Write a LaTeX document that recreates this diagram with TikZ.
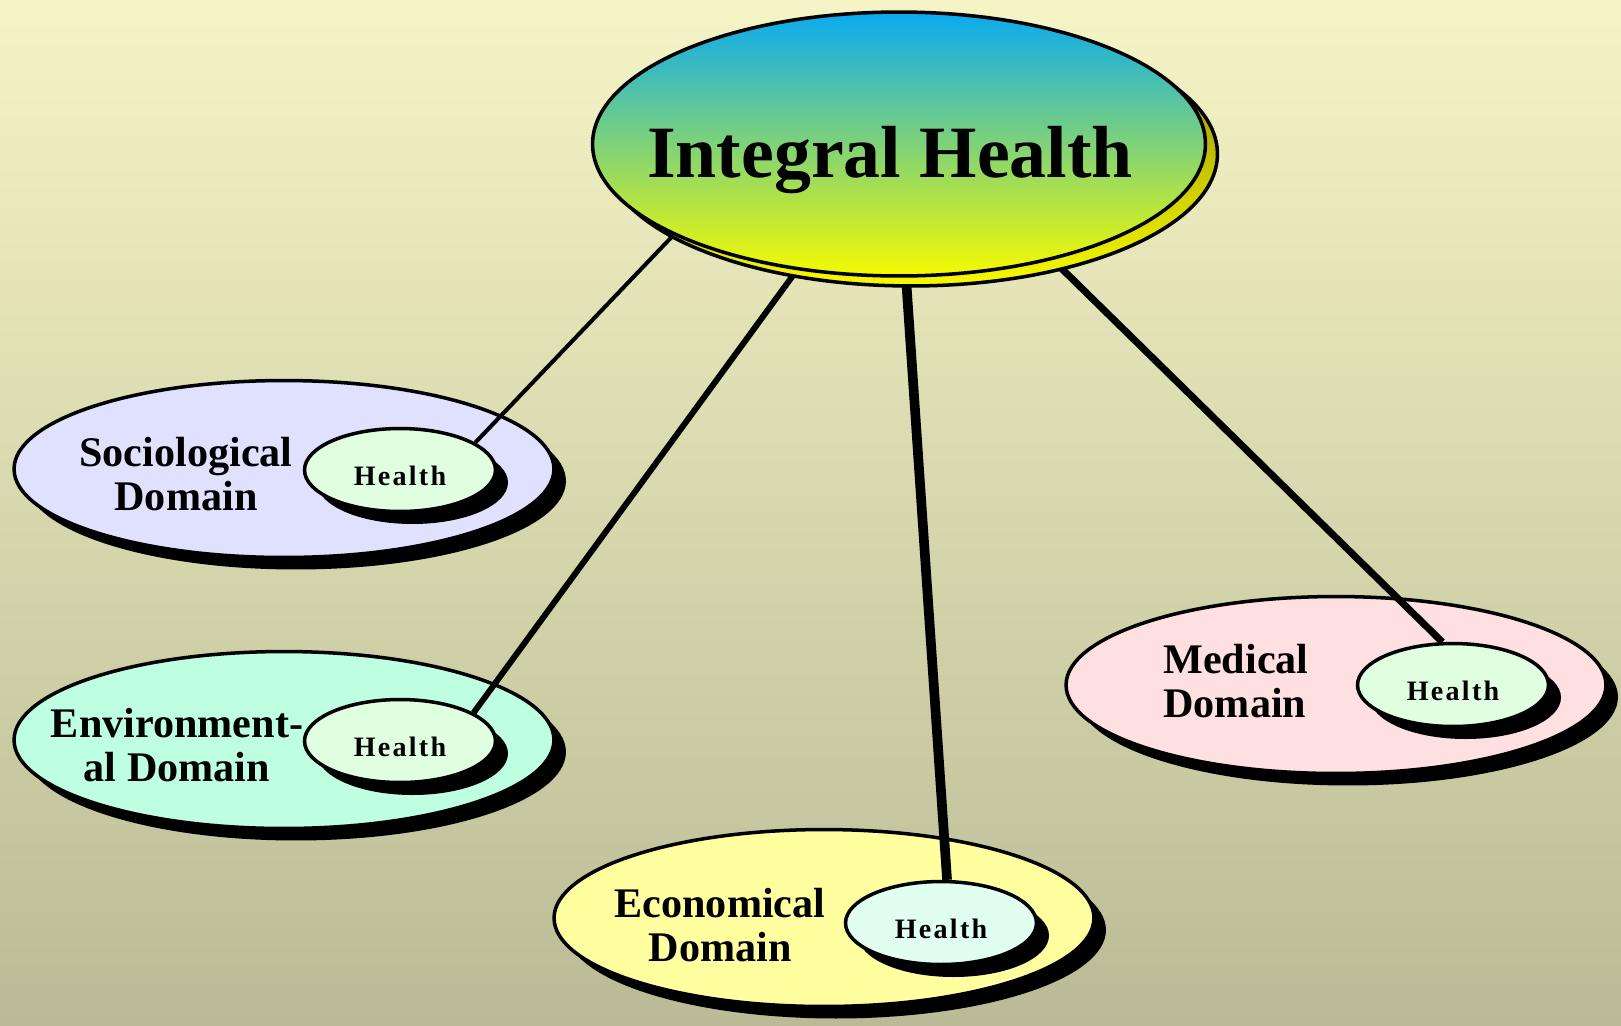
\documentclass[tikz,border=0pt]{standalone}
\usepackage{fontspec}
\setmainfont{Liberation Serif}
\usetikzlibrary{shapes.geometric,shadows}

\definecolor{bgtop}{RGB}{245,244,198}
\definecolor{bgbottom}{RGB}{186,187,150}
\definecolor{sky}{RGB}{10,170,240}
\definecolor{lemon}{RGB}{245,250,0}
\definecolor{olivedark}{RGB}{140,130,0}
\definecolor{socfill}{RGB}{224,224,255}
\definecolor{envfill}{RGB}{190,255,226}
\definecolor{medfill}{RGB}{255,224,224}
\definecolor{ecofill}{RGB}{255,255,160}
\definecolor{healthfill}{RGB}{224,255,224}
\definecolor{healthfillb}{RGB}{224,255,240}

\pgfdeclarelayer{bg}
\pgfdeclarelayer{front}
\pgfsetlayers{bg,main,front}

\tikzset{
  domainbox/.style={ellipse, draw=black, line width=2pt,
    minimum width=10.8cm, minimum height=3.54cm,
    general shadow={fill=black, shadow xshift=0.24cm, shadow yshift=-0.24cm}},
  health/.style={ellipse, draw=black, line width=2pt, fill=healthfill,
    minimum width=3.82cm, minimum height=1.66cm, inner sep=0pt, text height=0.62cm,
    font=\bfseries\fontsize{16}{18}\selectfont\addfontfeature{LetterSpace=8},
    general shadow={fill=black, shadow xshift=0.25cm, shadow yshift=-0.25cm}},
  domtext/.style={align=center, inner sep=0pt,
    font=\bfseries\fontsize{24}{25}\selectfont},
}

\begin{document}
\begin{tikzpicture}[x=0.02cm, y=-0.02cm]
        % Background
        \begin{pgfonlayer}{bg}
        \fill[top color=bgtop, bottom color=bgbottom] (0,0) rectangle (1621,1025);
        \end{pgfonlayer}

        % Draw the top ellipse
        \begin{pgfonlayer}{front}
        \node[ellipse, draw=black, line width=2pt, minimum width=12.26cm, minimum height=5.28cm,
          top color=sky, bottom color=lemon,
          general shadow={draw=black, line width=2pt, top color=olivedark, bottom color=lemon,
            shadow xshift=0.24cm, shadow yshift=-0.2cm}] (top) at (899,144) {};
        \node[anchor=base, inner sep=0pt, font=\bfseries\fontsize{42}{46}\selectfont]
          (title) at (890,177) {Integral Health};
        \end{pgfonlayer}

        % Draw the domains
        \node[domainbox, fill=socfill] (soc) at (284,469) {};
        \node[domainbox, fill=envfill] (env) at (284,740) {};
        \node[domainbox, fill=medfill] (med) at (1336,685) {};
        \node[domainbox, fill=ecofill] (eco) at (824,918) {};

        % Add labels
        \node[domtext] (soctext) at (186,474) {Sociological\\Domain};
        \node[domtext] (envtext) at (177,745) {Environment-\\al Domain};
        \node[domtext, align=left, anchor=west] (medtext) at (1163,681) {Medical\\Domain};
        \node[domtext] (ecotext) at (720,925) {Economical\\Domain};

        % Draw the health ellipses
        \begin{pgfonlayer}{front}
        \node[health] (h1) at (400,470) {Health};
        \node[health] (h2) at (400,741) {Health};
        \node[health] (h3) at (1453,685) {Health};
        \node[health, fill=healthfillb] (h4) at (941,923) {Health};
        \end{pgfonlayer}

        % Connect them
        \draw[line width=2.3pt] (top.202) -- (h1.20);
        \draw[line width=3.4pt] (top.231) -- (h2.21);
        \draw[line width=5.5pt] (top.273) -- (h4.82);
        \draw[line width=4pt] (top.323) -- (h3.104);
\end{tikzpicture}
\end{document}
